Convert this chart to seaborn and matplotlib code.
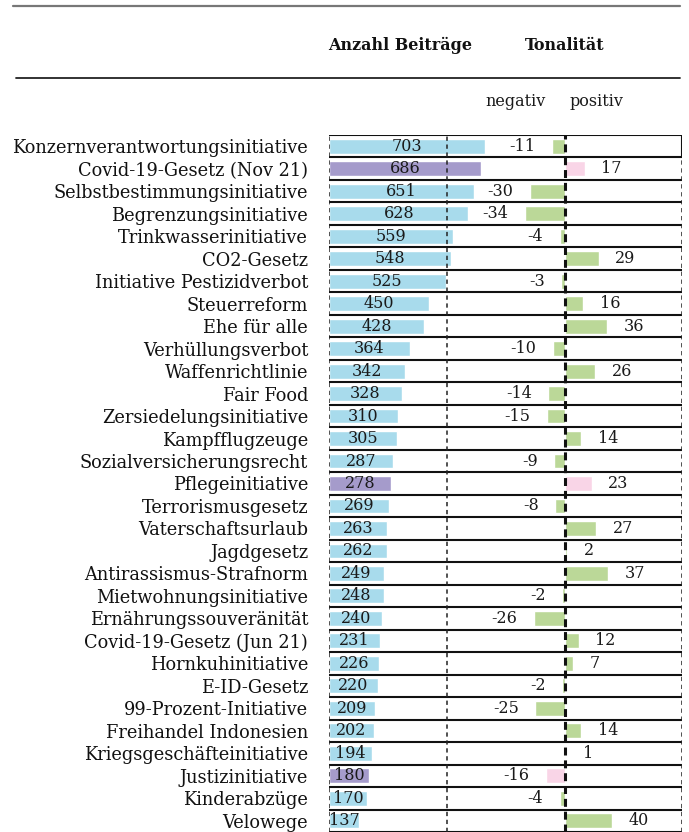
import pandas as pd
import numpy as np
import matplotlib.pyplot as plt
import seaborn as sns

vorlagen = ['Konzernverantwortungsinitiative', 'Covid-19-Gesetz (Nov 21)', 'Selbstbestimmungsinitiative',
            'Begrenzungsinitiative', 'Trinkwasserinitiative', 'CO2-Gesetz', 'Initiative Pestizidverbot',
            'Steuerreform', 'Ehe für alle', 'Verhüllungsverbot', 'Waffenrichtlinie', 'Fair Food',
            'Zersiedelungsinitiative', 'Kampfflugzeuge', 'Sozialversicherungsrecht', 'Pflegeinitiative',
            'Terrorismusgesetz', 'Vaterschaftsurlaub', 'Jagdgesetz', 'Antirassismus-Strafnorm',
            'Mietwohnungsinitiative', 'Ernährungssouveränität', 'Covid-19-Gesetz (Jun 21)', 'Hornkuhinitiative',
            'E-ID-Gesetz', '99-Prozent-Initiative', 'Freihandel Indonesien', 'Kriegsgeschäfteinitiative',
            'Justizinitiative', 'Kinderabzüge', 'Velowege']
anzahl = [703, 686, 651, 628, 559, 548, 525, 450, 428, 364, 342, 328, 310, 305, 287, 278,
          269, 263, 262, 249, 248, 240, 231, 226, 220, 209, 202, 194, 180, 170, 137]
tonalitaet = [-11, 17, -30, -34, -4, 29, -3, 16, 36, -10, 26, -14, -15, 14, -9, 23,
              -8, 27, 2, 37, -2, -26, 12, 7, -2, -25, 14, 1, -16, -4, 40]
# hervorgehobene Vorlagen (andere Farbe)
markiert = ['Covid-19-Gesetz (Nov 21)', 'Pflegeinitiative', 'Justizinitiative']

df = pd.DataFrame({'Vorlage': vorlagen, 'Anzahl': anzahl, 'Tonalitaet': tonalitaet})
df['Gruppe'] = np.where(df['Vorlage'].isin(markiert), 'markiert', 'normal')

sns.set_style('white')
plt.rcParams['font.family'] = ['DejaVu Serif']

fig = plt.figure(figsize=(6.89, 8.32), dpi=100)
ax = fig.add_axes([329 / 689, 0, 353 / 689, 1 - 135 / 832])

sns.barplot(data=df, x='Anzahl', y='Vorlage', hue='Gruppe', dodge=False, legend=False,
            palette={'normal': '#A8DBEC', 'markiert': '#A59BCB'}, width=0.66,
            saturation=1, ax=ax)
ax.set_xlim(0, 1590)

ax2 = ax.twiny()
sns.barplot(data=df, x='Tonalitaet', y='Vorlage', hue='Gruppe', dodge=False, legend=False,
            palette={'normal': '#BBD898', 'markiert': '#F9D5E7'}, width=0.66,
            saturation=1, ax=ax2)
ax2.set_xlim(-201, 100)
n = len(df)
ax.set_ylim(n - 0.5, -0.5)

for a in (ax, ax2):
    a.set_xlabel('')
    a.set_ylabel('')
    a.set_xticks([])
    for s in a.spines.values():
        s.set_visible(False)

ax.tick_params(axis='y', length=0, pad=15, labelsize=12.8, labelcolor='#111111')
ax2.tick_params(axis='y', length=0)

# Zeilenlinien
for i in range(n + 1):
    ax2.axhline(i - 0.5, color='#111111', lw=1.5, zorder=3)
# senkrechte gestrichelte Linien
for xv in [-201, -100, 100]:
    ax2.axvline(xv, color='#222222', lw=1.1, ls=(0, (2.8, 2.4)), zorder=3)
ax2.axvline(0, color='#111111', lw=2.2, ls=(0, (2.6, 1.6)), zorder=4)
# erste Zeile rechts geschlossen
ax2.plot([100, 100], [-0.5, 0.5], color='#111111', lw=1.5, zorder=3)

for i, (v, t) in enumerate(zip(anzahl, tonalitaet)):
    ax.text(v / 2, i, str(v), ha='center', va='center', fontsize=11.5, color='#1a1a1a', zorder=5)
    if t < 0:
        ax2.annotate(str(t), (t, i), xytext=(-12, 0), textcoords='offset points',
                     ha='right', va='center', fontsize=11.5, color='#1a1a1a')
    else:
        ax2.annotate(str(t), (t, i), xytext=(12, 0), textcoords='offset points',
                     ha='left', va='center', fontsize=11.5, color='#1a1a1a')

# Kopfzeile
fig.add_artist(plt.Line2D([13 / 689, 680 / 689], [1 - 6 / 832] * 2, color='#777777', lw=1.6))
fig.add_artist(plt.Line2D([16 / 689, 680 / 689], [1 - 78 / 832] * 2, color='#222222', lw=1.3))
fig.text(328 / 689, 1 - 45 / 832, 'Anzahl Beiträge', ha='left', va='center',
         fontsize=11.5, fontweight='bold', color='#111111')
fig.text(565 / 689, 1 - 45 / 832, 'Tonalität', ha='center', va='center',
         fontsize=11.5, fontweight='bold', color='#111111')
fig.text(516 / 689, 1 - 102 / 832, 'negativ', ha='center', va='center', fontsize=11.5, color='#1a1a1a')
fig.text(596 / 689, 1 - 102 / 832, 'positiv', ha='center', va='center', fontsize=11.5, color='#1a1a1a')

fig.savefig('out.png', dpi=100)
